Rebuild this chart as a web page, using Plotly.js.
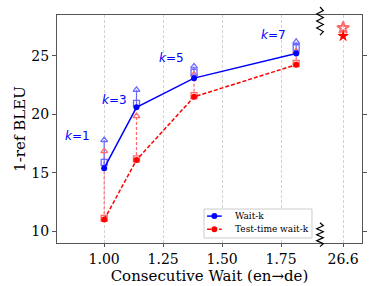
<!DOCTYPE html>
<html>
<head>
<meta charset="utf-8">
<script src="https://cdn.plot.ly/plotly-3.0.1.min.js"></script>
<style>html,body{margin:0;padding:0;background:#fff}#chart{width:381px;height:286px}</style>
</head>
<body>
<div id="chart"></div>
<script>
// Data
const kLabels = ['k=1', 'k=3', 'k=5', 'k=7'];
const consecWait = [1.0, 1.137, 1.381, 1.814];
const waitkBleu = [15.4, 20.6, 23.1, 25.2];
const waitkSquare = [15.9, 20.95, 23.6, 25.7];
const waitkTriangle = [17.8, 22.1, 24.1, 26.2];
const testBleu = [11.0, 16.1, 21.5, 24.25];
const testSquare = [11.1, 16.2, 21.6, 24.35];
const testTriangle = [16.85, 19.85, 23.4, 25.4];
const fullSentX = 2.013;           // axis position of the "26.6" break point
const fullSentBleu = [27.4, 26.7]; // open star, filled star
const xTickVals = [1.0, 1.25, 1.5, 1.75, 2.013];
const xTickText = ['1.00', '1.25', '1.50', '1.75', '26.6'];
const yTickVals = [10, 15, 20, 25];
const kLabelPos = [[0.889, 18.15], [1.044, 21.23], [1.285, 24.85], [1.718, 26.79]];
const legendNames = ['Wait-k', 'Test-time wait-k'];

const BLUE = '#0000ff', BLUE_L = '#6a6aff', RED = '#ff0000', RED_L = '#ff6a6a';
const serif = 'DejaVu Serif, serif';
const FINE_DASH = '4px,2px';

function segs(xs, y0, y1) {
  const X = [], Y = [];
  xs.forEach((x, i) => { X.push(x, x, null); Y.push(y0[i], y1[i], null); });
  return {X, Y};
}
const bs = segs(consecWait, waitkBleu, waitkTriangle);
const rs = segs(consecWait, testBleu, testTriangle);

const traces = [
  {x: rs.X, y: rs.Y, mode: 'lines', line: {color: RED_L, width: 1.2, dash: '3px,2px'}, showlegend: false, hoverinfo: 'skip'},
  {x: bs.X, y: bs.Y, mode: 'lines', line: {color: BLUE_L, width: 1.2}, showlegend: false, hoverinfo: 'skip'},
  {x: consecWait, y: testTriangle, mode: 'markers', marker: {symbol: 'triangle-up-open', size: 6, color: RED_L, line: {width: 1.3}}, showlegend: false},
  {x: consecWait, y: testSquare, mode: 'markers', marker: {symbol: 'square-open', size: 6, color: RED_L, line: {width: 1.3}}, showlegend: false},
  {x: consecWait, y: waitkTriangle, mode: 'markers', marker: {symbol: 'triangle-up-open', size: 6, color: BLUE_L, line: {width: 1.3}}, showlegend: false},
  {x: consecWait, y: waitkSquare, mode: 'markers', marker: {symbol: 'square-open', size: 6, color: BLUE_L, line: {width: 1.3}}, showlegend: false},
  {x: consecWait, y: waitkBleu, name: legendNames[0], mode: 'lines+markers', line: {color: BLUE, width: 1.5}, marker: {symbol: 'circle', size: 6, color: BLUE}, showlegend: false},
  {x: consecWait, y: testBleu, name: legendNames[1], mode: 'lines+markers', line: {color: RED, width: 1.5, dash: FINE_DASH}, marker: {symbol: 'circle', size: 6, color: RED}, showlegend: false},
  {x: [fullSentX], y: [fullSentBleu[0]], mode: 'markers', marker: {symbol: 'star-open', size: 9, color: RED_L, line: {width: 2}}, showlegend: false},
  {x: [fullSentX], y: [fullSentBleu[1]], mode: 'markers', marker: {symbol: 'star', size: 9, color: RED}, showlegend: false}
];

function squiggle(xc, ytop, ybot, n, amp) {
  let p = '';
  for (let i = 0; i <= n; i++) {
    const y = ytop + (ybot - ytop) * i / n;
    const x = i === 0 || i === n ? xc : xc + (i % 2 ? amp : -amp);
    p += (i === 0 ? 'M' : ' L') + x + ',' + y;
  }
  return p;
}
const breakX = 1.915;
const shapes = [
  {type: 'path', xref: 'x', yref: 'paper', path: squiggle(breakX, 1.035, 0.912, 8, 0.014), line: {color: '#000', width: 1.2}},
  {type: 'path', xref: 'x', yref: 'paper', path: squiggle(breakX, 0.089, -0.016, 8, 0.014), line: {color: '#000', width: 1.2}}
];

// compact legend drawn as shapes + text (matches the small matplotlib-style box)
const legBox = {x0: 0.482, x1: 0.836, y0: 0.022, y1: 0.149};
const legRows = [0.118, 0.060];
const legColors = [BLUE, RED];
const legDash = ['solid', FINE_DASH];
shapes.push({type: 'rect', xref: 'paper', yref: 'paper', x0: legBox.x0, x1: legBox.x1, y0: legBox.y0, y1: legBox.y1,
  line: {color: '#cccccc', width: 1}, fillcolor: 'rgba(255,255,255,0.9)', layer: 'above'});
legRows.forEach((yy, i) => {
  shapes.push({type: 'line', xref: 'paper', yref: 'paper', x0: 0.492, x1: 0.540, y0: yy, y1: yy,
    line: {color: legColors[i], width: 1.5, dash: legDash[i]}, layer: 'above'});
  shapes.push({type: 'circle', xref: 'paper', yref: 'paper', x0: 0.516 - 0.0098, x1: 0.516 + 0.0098, y0: yy - 0.0132, y1: yy + 0.0132,
    line: {color: legColors[i], width: 0}, fillcolor: legColors[i], layer: 'above'});
});

const annotations = kLabels.map((t, i) => ({
  x: kLabelPos[i][0], y: kLabelPos[i][1], xref: 'x', yref: 'y',
  text: '<i>k</i>' + t.slice(1), showarrow: false,
  font: {family: 'DejaVu Sans, sans-serif', size: 12, color: BLUE}
}));
legendNames.forEach((n, i) => annotations.push({
  x: 0.577, y: legRows[i], xref: 'paper', yref: 'paper', xanchor: 'left', yanchor: 'middle',
  text: n, showarrow: false, font: {family: serif, size: 9, color: '#000'}
}));

const layout = {
  width: 381, height: 286,
  margin: {l: 57, r: 19, t: 15, b: 43},
  paper_bgcolor: '#fff', plot_bgcolor: '#fff',
  showlegend: false,
  xaxis: {
    range: [0.8, 2.093], tickvals: xTickVals, ticktext: xTickText,
    showgrid: true, gridcolor: '#d2d2d2', griddash: '3px,2px', gridwidth: 1,
    zeroline: false, showline: true, linecolor: '#555', linewidth: 1, mirror: true,
    ticks: 'outside', ticklen: 3, tickcolor: '#555',
    tickfont: {family: serif, size: 14, color: '#000'},
    title: {text: 'Consecutive Wait (en→de)', font: {family: serif, size: 15, color: '#000'}, standoff: 2}
  },
  yaxis: {
    range: [9, 28.5], tickvals: yTickVals,
    showgrid: false, zeroline: false, showline: true, linecolor: '#555', linewidth: 1, mirror: 'ticks',
    ticks: 'outside', ticklen: 4, tickcolor: '#555',
    tickfont: {family: serif, size: 14, color: '#000'},
    title: {text: '1-ref BLEU', font: {family: serif, size: 15, color: '#000'}, standoff: 2}
  },
  shapes: shapes,
  annotations: annotations
};

Plotly.newPlot('chart', traces, layout, {displayModeBar: false, staticPlot: true});
</script>
</body>
</html>
